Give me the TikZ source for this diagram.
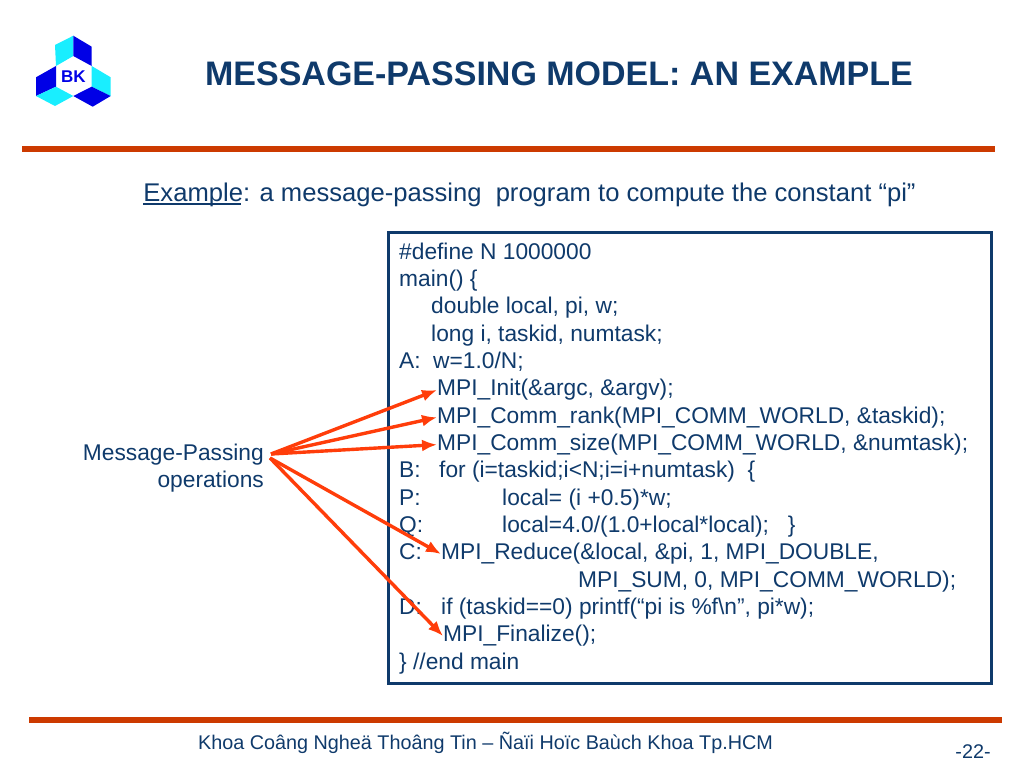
\documentclass[tikz,border=0pt]{standalone}
\usepackage{fontspec}
\setmainfont{Liberation Sans}
\usetikzlibrary{arrows.meta}
\definecolor{navy}{HTML}{0F3A6B}
\definecolor{rulered}{HTML}{CC3A00}
\definecolor{arrowred}{HTML}{FF3D0A}
\definecolor{logocyan}{HTML}{19EEFF}
\definecolor{logoblue}{HTML}{0000E6}
\newcommand{\exampleul}[1]{\rlap{\rule[-3.6pt]{98pt}{1.8pt}}#1}
\tikzset{
  code/.style={anchor=base west,inner sep=0pt,text=navy,font=\fontsize{22.75}{26}\selectfont},
  rulebar/.style={rulered,line width=6pt},
  msgarrow/.style={arrowred,line width=3.4pt,-{Latex[length=15pt,width=12pt]}},
}
\begin{document}
\begin{tikzpicture}[x=1pt,y=-1pt]
    \useasboundingbox (0,0) rectangle (1024,768);

    % logo
    \fill [logocyan] (55,45) -- (73.3,35.7) -- (73.3,56) -- (56,66) -- cycle;
    \fill [logoblue] (73.3,35.7) -- (91.7,46.7) -- (91.7,66) -- (73.3,56) -- cycle;
    \fill [logoblue] (36,77.3) -- (56,66) -- (56,86.7) -- (36,96) -- cycle;
    \fill [logocyan] (36,96) -- (56,86.7) -- (73.3,96) -- (55,106) -- cycle;
    \fill [logocyan] (91.7,66) -- (110.7,77.3) -- (110.7,96) -- (91.7,86.7) -- cycle;
    \fill [logoblue] (91.7,86.7) -- (110.7,96) -- (92.7,106.7) -- (73.3,96) -- cycle;
    \path (73.5,77) node [inner sep=0pt,text=logoblue,font=\bfseries\fontsize{17}{18}\selectfont] (bk) {BK};

    % title and rules
    \path (559,74) node [inner sep=0pt,text=navy,font=\bfseries\fontsize{34}{36}\selectfont] (title) {MESSAGE-PASSING MODEL: AN EXAMPLE};
    \draw [rulebar] (22,149) -- (995,149);
    \path (529.5,195) node [inner sep=0pt,text=navy,font=\fontsize{25.6}{28}\selectfont] (sub) {\exampleul{Example}: a message-passing\ \ program to compute the constant “pi”};

    % code box
    \draw [navy,line width=3pt] (388,232) rectangle (991,683.5);
    \path (399,259.2) node [code] (l1) {\#define N 1000000};
    \path (399,286.5) node [code] (l2) {main() \{};
    \path (431,313.9) node [code] (l3) {double local, pi, w;};
    \path (431,341.2) node [code] (l4) {long i, taskid, numtask;};
    \path (399,368.5) node [code] (l5) {A:};
    \path (433,368.5) node [code] (l5b) {w=1.0/N;};
    \path (437,395.9) node [code] (init) {MPI\_Init(\&argc, \&argv);};
    \path (437,423.2) node [code] (rank) {MPI\_Comm\_rank(MPI\_COMM\_WORLD, \&taskid);};
    \path (437,450.5) node [code] (size) {MPI\_Comm\_size(MPI\_COMM\_WORLD, \&numtask);};
    \path (399,477.9) node [code] (l9) {B:};
    \path (439,477.9) node [code] (l9b) {for (i=taskid;i<N;i=i+numtask)\ \ \{};
    \path (399,505.2) node [code] (l10) {P:};
    \path (502,505.2) node [code] (l10b) {local= (i +0.5)*w;};
    \path (399,532.5) node [code] (l11) {Q:};
    \path (502,532.5) node [code] (l11b) {local=4.0/(1.0+local*local);\ \ \ \}};
    \path (399,559.9) node [code] (l12) {C:};
    \path (441,559.9) node [code] (reduce) {MPI\_Reduce(\&local, \&pi, 1, MPI\_DOUBLE,};
    \path (578,587.2) node [code] (l13) {MPI\_SUM, 0, MPI\_COMM\_WORLD);};
    \path (399,614.5) node [code] (l14) {D:};
    \path (441,614.5) node [code] (l14b) {if (taskid==0) printf(“pi is \%f\textbackslash n”, pi*w);};
    \path (443,641.9) node [code] (final) {MPI\_Finalize();};
    \path (399,669.2) node [code] (l16) {\} //end main};

    % arrows
    \path (264,468) node [anchor=east,inner sep=0pt,align=right,text=navy,font=\fontsize{22.75}{27}\selectfont] (msg) {Message-Passing\\operations};
    \coordinate (mtop) at (271,454);
    \coordinate (mbot) at (270,458);
    \draw [msgarrow] (mtop) -- (init.west);
    \draw [msgarrow] (mtop) -- (rank.west);
    \draw [msgarrow] (mtop) -- (size.west);
    \draw [msgarrow] (mbot) -- (reduce.west);
    \draw [msgarrow] (mbot) -- (final.west);

    % footer
    \draw [rulebar] (29,720) -- (1002,720);
    \path (485.5,743) node [inner sep=0pt,text=navy,font=\fontsize{19.8}{22}\selectfont] (foot) {Khoa Coâng Ngheä Thoâng Tin – Ñaïi Hoïc Baùch Khoa Tp.HCM};
    \path (973,752) node [inner sep=0pt,text=navy,font=\fontsize{19.8}{22}\selectfont] (page) {-22-};
\end{tikzpicture}
\end{document}
